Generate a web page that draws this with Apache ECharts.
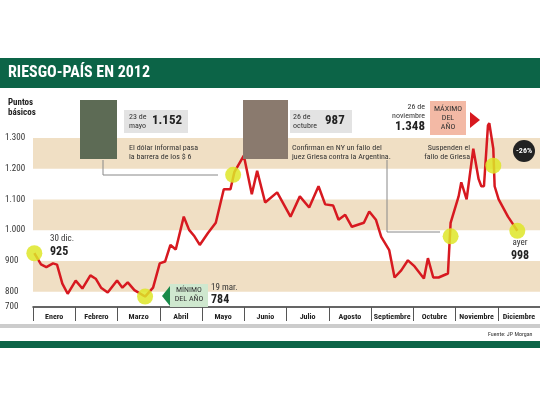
<!DOCTYPE html>
<html><head><meta charset="utf-8">
<script src="https://cdn.jsdelivr.net/npm/echarts@6/dist/echarts.min.js"></script>
<style>html,body{margin:0;padding:0;background:#fff}#chart{width:540px;height:405px}</style>
</head><body><div id="chart"></div>
<script>
// days since start of chart (30 dic 2011 = ~0) and riesgo-país in basis points
const days = [1,6,10,15,18,22,26,32,37,43,47,51,56,63,67,71,76,84,90,95,99,103,107,113,117,121,125,131,137,143,148,151,158,164,168,174,183,193,200,207,214,219,225,229,234,239,248,252,257,261,267,271,276,281,286,293,296,300,304,311,313,319,321,325,330,334,336,338,341,342,345,346,349,356,360,363];
const values = [925,889,880,892,888,826,793,836,810,853,842,813,797,836,813,830,805,784,813,892,898,952,937,1044,1001,980,952,990,1024,1133,1133,1190,1243,1117,1193,1090,1123,1044,1110,1074,1143,1084,1080,1034,1050,1011,1024,1061,1034,978,935,846,869,902,882,843,909,846,846,859,1024,1110,1156,1100,1265,1166,1143,1143,1341,1348,1265,1143,1100,1044,1018,998];
const months = ['Enero','Febrero','Marzo','Abril','Mayo','Junio','Julio','Agosto','Septiembre','Octubre','Noviembre','Diciembre'];
const yTicks = [800,900,1000,1100,1200,1300];
const highlights = [[1,925],[84,784],[150,1180],[313,980],[342,1348],[345,1210],[363,998]];

const chart = echarts.init(document.getElementById('chart'));
const F = 'Roboto Condensed, Liberation Sans Narrow, Roboto, sans-serif';
const txt = (x, y, text, size, weight, color, align) => ({
  type: 'text', z: 10,
  style: { x, y, text, fontSize: size, fontWeight: weight || 'normal', fill: color || '#222', fontFamily: F,
    align: align || 'left', verticalAlign: 'top', lineHeight: size + 1 }
});
const box = (x, y, w, h, fill) => ({ type: 'rect', z: 5, shape: { x, y, width: w, height: h }, style: { fill } });
chart.setOption({
  animation: false,
  grid: { left: 33, right: 0, top: 138, bottom: 98 },
  xAxis: [
    { type: 'value', min: 0, max: 380, show: false },
    { type: 'category', data: months, position: 'bottom',
      axisLine: { lineStyle: { color: '#333', width: 1.5 } },
      axisTick: { show: true, length: 14, lineStyle: { color: '#555' } },
      axisLabel: { interval: 0, fontSize: 8, fontWeight: 'bold', color: '#222', margin: 6, fontFamily: F } }
  ],
  yAxis: {
    type: 'value', min: 750, max: 1300, interval: 50,
    axisLine: { show: false }, axisTick: { show: false }, splitLine: { show: false },
    axisLabel: { fontSize: 9, color: '#333', align: 'left', margin: 28, fontFamily: F,
      formatter: v => v === 750 ? '700' : (yTicks.includes(v) ? (v >= 1000 ? String(v).replace(/(\d)(\d{3})$/, '$1.$2') : v) : '') }
  },
  series: [{
    type: 'line', xAxisIndex: 0, clip: false,
    data: days.map((d, i) => [d, values[i]]),
    symbol: 'none', lineStyle: { color: '#d71920', width: 2.5 },
    markArea: { silent: true, itemStyle: { color: '#f0dfc4' },
      data: [[{ yAxis: 1200 }, { yAxis: 1300 }], [{ yAxis: 1000 }, { yAxis: 1100 }], [{ yAxis: 800 }, { yAxis: 900 }]] },
    markPoint: { symbol: 'circle', symbolSize: 16, silent: true,
      itemStyle: { color: 'rgba(222,230,40,0.85)' }, label: { show: false },
      data: highlights.map(p => ({ coord: p })) },
    z: 3
  }],
  graphic: [
    box(0, 58, 540, 30, '#0c6447'),
    txt(8, 64, 'RIESGO-PAÍS EN 2012', 16, 'bold', '#fff'),
    txt(8, 98, 'Puntos\nbásicos', 9, 'bold', '#222'),
    box(0, 324, 540, 4, '#ccc'),
    txt(488, 331, 'Fuente: JP Morgan', 6, 'normal', '#333'),
    box(0, 341, 540, 7, '#0c6447'),
    box(80, 100, 37, 59, '#5d6b55'),
    box(243, 100, 45, 59, '#8a7a6e'),
    box(124, 110, 64, 23, '#e3e3e3'),
    txt(129, 112, '23 de\nmayo', 8, 'normal', '#333'),
    txt(152, 114, '1.152', 13, 'bold', '#222'),
    txt(129, 143, 'El dólar informal pasa\nla barrera de los $ 6', 8, 'normal', '#333'),
    box(290, 110, 62, 23, '#e3e3e3'),
    txt(293, 112, '26 de\noctubre', 8, 'normal', '#333'),
    txt(325, 114, '987', 13, 'bold', '#222'),
    txt(292, 143, 'Confirman en NY un fallo del\njuez Griesa contra la Argentina.', 8, 'normal', '#333'),
    txt(425, 102, '26 de\nnoviembre', 8, 'normal', '#333', 'right'),
    txt(425, 120, '1.348', 13, 'bold', '#222', 'right'),
    box(430, 101, 36, 34, '#f3b9a5'),
    txt(448, 104, 'MÁXIMO\nDEL\nAÑO', 8, 'normal', '#333', 'center'),
    { type: 'polygon', z: 5, shape: { points: [[470, 112], [480, 120], [470, 128]] }, style: { fill: '#d71920' } },
    txt(470, 143, 'Suspenden el\nfallo de Griesa', 8, 'normal', '#333', 'right'),
    { type: 'polyline', z: 5, shape: { points: [[103, 160], [103, 175], [218, 175]] }, style: { stroke: '#888', lineWidth: 1 } },
    { type: 'polyline', z: 5, shape: { points: [[387, 160], [387, 232], [440, 232]] }, style: { stroke: '#888', lineWidth: 1 } },
    { type: 'circle', z: 5, shape: { cx: 524, cy: 151, r: 11 }, style: { fill: '#222' } },
    txt(524, 146, '-26%', 8, 'bold', '#fff', 'center'),
    txt(50, 234, '30 dic.', 9, 'normal', '#333'),
    txt(50, 245, '925', 12, 'bold', '#222'),
    { type: 'polygon', z: 5, shape: { points: [[162, 296], [170, 286], [170, 306]] }, style: { fill: '#1a8a4a' } },
    box(170, 284, 38, 23, '#cfe8cf'),
    txt(189, 285, 'MÍNIMO\nDEL AÑO', 8, 'normal', '#333', 'center'),
    txt(211, 283, '19 mar.', 9, 'normal', '#333'),
    txt(211, 293, '784', 12, 'bold', '#222'),
    txt(520, 238, 'ayer', 9, 'normal', '#333', 'center'),
    txt(520, 249, '998', 12, 'bold', '#222', 'center')
  ]
});
</script></body></html>
